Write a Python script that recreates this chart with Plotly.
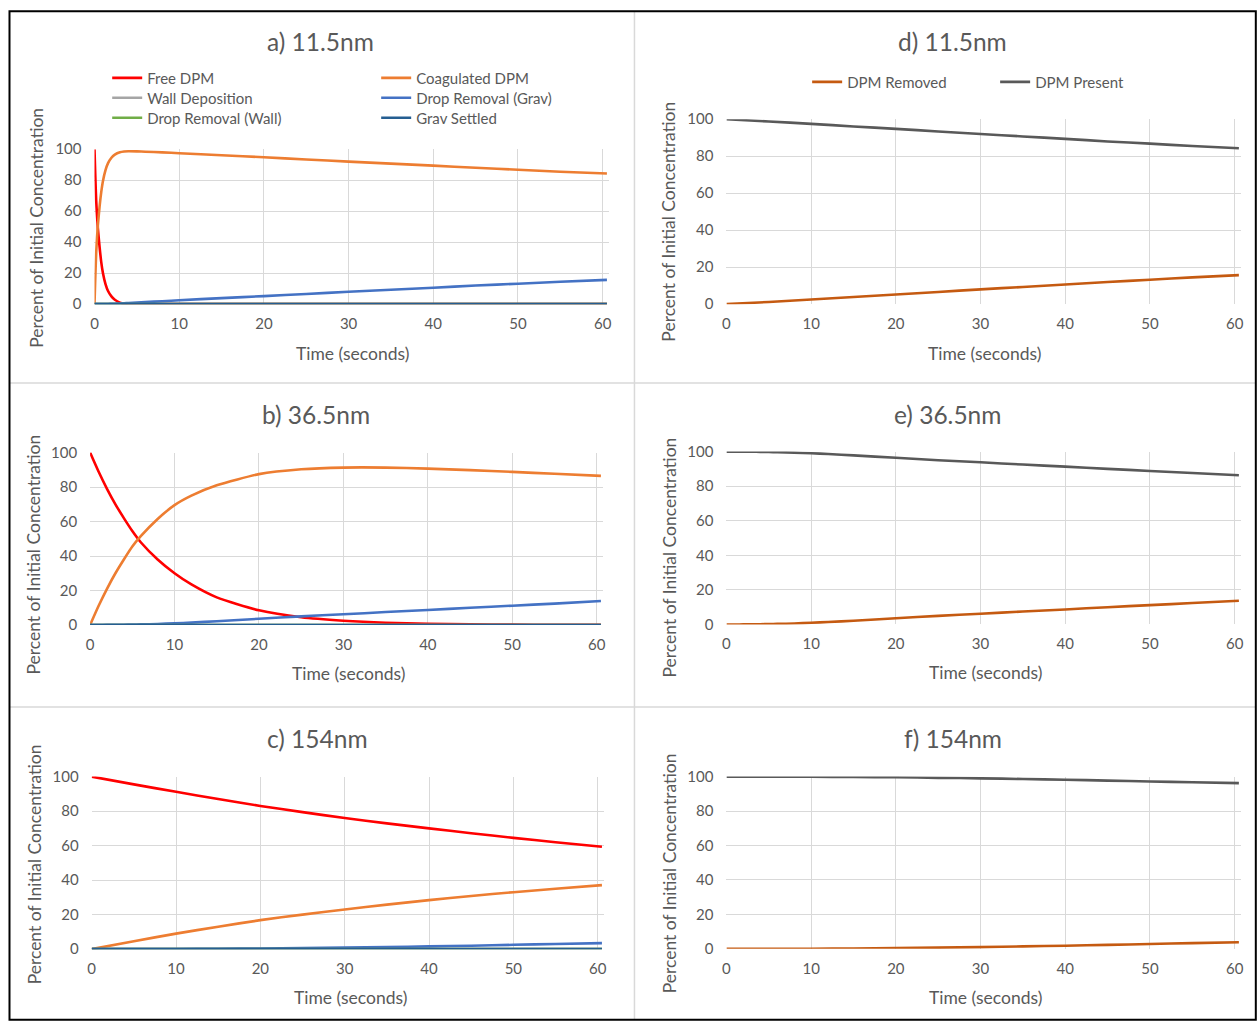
import plotly.graph_objects as go

W, H = 1259, 1029
FONT = "Lato, 'Open Sans', sans-serif"
TXT = "#595959"
GRID = "#D9D9D9"

# ---------------- data ----------------
# a) 11.5 nm
T_A = [0, 0.1, 0.2, 0.3, 0.4, 0.6, 0.8, 1.0, 1.3, 1.6, 2.0, 2.4, 3.0, 3.5, 4, 5, 6, 8, 10,
       15, 20, 25, 30, 35, 40, 45, 50, 55, 60.5]
FREE_A = [100, 82, 67, 57, 49, 37, 27, 20, 13, 8.5, 5, 2.8, 1, 0.3, 0.1, 0, 0, 0, 0,
          0, 0, 0, 0, 0, 0, 0, 0, 0, 0]
COAG_A = [0, 18, 33, 43, 51, 63, 72.5, 79.5, 86.5, 91, 94.5, 96.5, 98, 98.5, 98.7, 98.6, 98.4, 98, 97.4,
          96.1, 94.8, 93.4, 92, 90.7, 89.4, 88, 86.8, 85.5, 84.3]
WALLDEP_A = [0, 0, 0, 0, 0, 0, 0, 0, 0, 0, 0, 0, 0, 0, 0, 0, 0, 0, 0,
             0, 0, 0, 0, 0, 0, 0, 0, 0, 0]
DROPGRAV_A = [0, 0, 0, 0, 0, 0, 0, 0.1, 0.1, 0.1, 0.2, 0.3, 0.4, 0.6, 0.7, 1.0, 1.3, 1.9, 2.5,
              3.9, 5.2, 6.6, 8.0, 9.3, 10.6, 12.0, 13.2, 14.5, 15.7]
DROPWALL_A = [0, 0, 0, 0, 0, 0, 0, 0, 0, 0, 0, 0, 0, 0, 0, 0, 0, 0, 0,
              0, 0, 0, 0, 0, 0, 0, 0, 0, 0]
GRAVSET_A = [0, 0, 0, 0, 0, 0, 0, 0, 0, 0, 0, 0, 0, 0, 0, 0, 0, 0, 0,
             0, 0, 0, 0, 0, 0, 0, 0, 0, 0]

# b) 36.5 nm
T_B = [0, 1, 2, 3, 4, 5, 6, 8, 10, 12, 15, 20, 25, 30, 35, 40, 45, 50, 55, 60.5]
FREE_B = [100, 89, 79, 70, 62, 54.5, 48, 38, 30, 23.5, 16, 8.5, 4.5, 2.5, 1.3, 0.7, 0.35, 0.2, 0.1, 0.05]
COAG_B = [0, 11, 21, 30, 38, 45.5, 51.5, 61.5, 69.5, 75, 81, 87.5, 90.3, 91.3, 91.3, 90.7, 89.8, 88.8, 87.7, 86.5]
WALLDEP_B = [0, 0, 0, 0, 0, 0, 0, 0, 0, 0, 0, 0, 0, 0, 0, 0, 0, 0, 0, 0]
DROPGRAV_B = [0, 0.02, 0.05, 0.1, 0.15, 0.25, 0.35, 0.6, 1.0, 1.4, 2.2, 3.6, 5.0, 6.2, 7.5, 8.7, 10.0, 11.2, 12.4, 13.9]
DROPWALL_B = [0, 0, 0, 0, 0, 0, 0, 0, 0, 0, 0, 0, 0, 0, 0, 0, 0, 0, 0, 0]
GRAVSET_B = [0, 0, 0, 0, 0, 0, 0, 0, 0, 0, 0, 0, 0, 0, 0, 0, 0, 0, 0, 0]

# c) 154 nm
T_C = [0, 5, 10, 15, 20, 25, 30, 35, 40, 45, 50, 55, 60.5]
FREE_C = [100, 95.5, 91.2, 87, 83, 79.4, 76, 72.9, 70, 67.2, 64.5, 62, 59.3]
COAG_C = [0, 4.6, 9.0, 13, 16.8, 20, 23, 25.8, 28.4, 30.8, 33, 35, 37.1]
WALLDEP_C = [0, 0, 0, 0, 0, 0, 0, 0, 0, 0, 0, 0, 0]
DROPGRAV_C = [0, 0.02, 0.08, 0.2, 0.35, 0.6, 0.9, 1.2, 1.6, 2.0, 2.5, 3.0, 3.5]
DROPWALL_C = [0, 0, 0, 0, 0, 0, 0, 0, 0, 0, 0, 0, 0]
GRAVSET_C = [0, 0, 0, 0, 0, 0, 0, 0, 0, 0, 0, 0, 0]

# d) 11.5 nm totals
T_D = [0, 5, 10, 15, 20, 25, 30, 35, 40, 45, 50, 55, 60.5]
REMOVED_D = [0, 1.2, 2.5, 3.9, 5.2, 6.6, 8.0, 9.3, 10.6, 12.0, 13.2, 14.5, 15.7]
PRESENT_D = [100, 98.8, 97.5, 96.1, 94.8, 93.4, 92.0, 90.7, 89.4, 88.0, 86.8, 85.5, 84.3]

# e) 36.5 nm totals
T_E = [0, 1, 2, 3, 4, 5, 6, 8, 10, 12, 15, 20, 25, 30, 35, 40, 45, 50, 55, 60.5]
REMOVED_E = [0, 0.02, 0.05, 0.1, 0.15, 0.25, 0.35, 0.6, 1.0, 1.4, 2.2, 3.6, 5.0, 6.2, 7.5, 8.7, 10.0, 11.2, 12.4, 13.7]
PRESENT_E = [100, 99.98, 99.95, 99.9, 99.85, 99.75, 99.65, 99.4, 99.0, 98.6, 97.8, 96.4, 95.0, 93.8, 92.5, 91.3, 90.0, 88.8, 87.6, 86.3]

# f) 154 nm totals
T_F = [0, 5, 10, 15, 20, 25, 30, 35, 40, 45, 50, 55, 60.5]
REMOVED_F = [0, 0.02, 0.08, 0.2, 0.4, 0.7, 1.0, 1.4, 1.8, 2.3, 2.8, 3.3, 3.8]
PRESENT_F = [100, 99.98, 99.92, 99.8, 99.6, 99.3, 99.0, 98.6, 98.2, 97.7, 97.2, 96.7, 96.2]

SERIES_NAMES = ["Free DPM", "Coagulated DPM", "Wall Deposition", "Drop Removal (Grav)",
                "Drop Removal (Wall)", "Grav Settled"]
SERIES_COLORS = ["#FF0000", "#ED7D31", "#A5A5A5", "#4472C4", "#70AD47", "#255E91"]
TOTAL_NAMES = ["DPM Removed", "DPM Present"]
TOTAL_COLORS = ["#C55A11", "#595959"]

TITLES = ["a) 11.5nm", "b) 36.5nm", "c) 154nm", "d) 11.5nm", "e) 36.5nm", "f) 154nm"]
X_TICKS = [0, 10, 20, 30, 40, 50, 60]
Y_TICKS = [0, 20, 40, 60, 80, 100]
X_TITLE = "Time (seconds)"
Y_TITLE = "Percent of Initial Concentration"

# ---------------- layout geometry ----------------
# target positions are given in screenshot pixels; the page shows the figure
# slightly compressed/offset, so convert them back to figure pixels first.
SX, OX = 0.9953, 2.5
SY, OY = 0.983, 8.7

def dx(x):
    return (x - OX) / SX

def dy(y):
    return (y - OY) / SY

def px(x):
    return min(max(dx(x) / W, 0), 1)

def py(y):
    return min(max(1 - dy(y) / H, 0), 1)

# panel plot areas: (x_left, x_right, y_top, y_bottom) in screenshot px
PANELS = [
    (93, 608, 148, 303),        # a
    (88.6, 602, 451.5, 624),    # b
    (90.2, 603, 775.7, 948.3),  # c
    (725, 1240, 118, 303),      # d
    (725, 1240, 450.5, 623.5),  # e
    (725, 1240, 775.7, 948),    # f
]
TITLE_POS = [(319, 40), (315, 413), (316, 738), (951, 40), (946, 413), (952, 738)]
XT_POS = [(351, 352), (347, 673), (349, 997), (983, 352), (984, 672), (984, 997)]
YT_POS = [(35, 226), (32, 553), (33, 863), (667, 220), (668, 556), (668, 872)]

# legend text start positions (px): (text_left, row_center)
LEG_A_POS = [(148, 78), (417, 78), (148, 98), (417, 98), (148, 118), (417, 118)]
LEG_D_POS = [(848, 82), (1036, 82)]
LEG_FONT = 15

fig = go.Figure()

groups_left = [
    (T_A, [FREE_A, COAG_A, WALLDEP_A, DROPGRAV_A, DROPWALL_A, GRAVSET_A]),
    (T_B, [FREE_B, COAG_B, WALLDEP_B, DROPGRAV_B, DROPWALL_B, GRAVSET_B]),
    (T_C, [FREE_C, COAG_C, WALLDEP_C, DROPGRAV_C, DROPWALL_C, GRAVSET_C]),
]
groups_right = [
    (T_D, [REMOVED_D, PRESENT_D]),
    (T_E, [REMOVED_E, PRESENT_E]),
    (T_F, [REMOVED_F, PRESENT_F]),
]

def legname(k):
    return "legend" if k == 1 else "legend%d" % k

for i, (t, series) in enumerate(groups_left):
    ax = "" if i == 0 else str(i + 1)
    for j, vals in enumerate(series):
        fig.add_trace(go.Scatter(
            x=t, y=vals, mode="lines", name=SERIES_NAMES[j],
            line=dict(color=SERIES_COLORS[j], width=2.6, shape="spline", smoothing=0.6),
            xaxis="x" + ax, yaxis="y" + ax,
            showlegend=(i == 0), legend=legname(j + 1),
            hoverinfo="skip",
        ))

for i, (t, series) in enumerate(groups_right):
    ax = str(i + 4)
    for j, vals in enumerate(series):
        fig.add_trace(go.Scatter(
            x=t, y=vals, mode="lines", name=TOTAL_NAMES[j],
            line=dict(color=TOTAL_COLORS[j], width=2.6, shape="spline", smoothing=0.6),
            xaxis="x" + ax, yaxis="y" + ax,
            showlegend=(i == 0), legend=legname(7 + j),
            hoverinfo="skip",
        ))

layout = dict(
    width=W, height=H, margin=dict(l=0, r=0, t=0, b=0),
    paper_bgcolor="white", plot_bgcolor="white",
    font=dict(family=FONT, color=TXT, size=15),
)

for i, (xl, xr, yt, yb) in enumerate(PANELS):
    ax = "" if i == 0 else str(i + 1)
    layout["xaxis" + ax] = dict(
        domain=[px(xl), px(xr)], range=[0, 60.8], anchor="y" + ax,
        tickvals=X_TICKS, showgrid=True, gridcolor=GRID, gridwidth=1,
        zeroline=False, showline=False, ticks="", ticklabelstandoff=9,
        tickfont=dict(size=15, color=TXT, family=FONT), fixedrange=True,
    )
    layout["yaxis" + ax] = dict(
        domain=[py(yb), py(yt)], range=[0, 100], anchor="x" + ax,
        tickvals=Y_TICKS, showgrid=True, gridcolor=GRID, gridwidth=1,
        zeroline=False, showline=False, ticks="", ticklabelstandoff=12,
        tickfont=dict(size=15, color=TXT, family=FONT), fixedrange=True,
    )

for k, (tx, ty) in enumerate(LEG_A_POS + LEG_D_POS, start=1):
    layout[legname(k)] = dict(
        x=(dx(tx) - 42.5) / W, y=1 - (dy(ty) - 18) / H,
        xanchor="left", yanchor="top", orientation="v",
        bgcolor="rgba(0,0,0,0)", font=dict(size=LEG_FONT, color=TXT, family=FONT),
        itemclick=False, itemdoubleclick=False,
    )

annotations = []
for (x, y), text in zip(TITLE_POS, TITLES):
    annotations.append(dict(text=text, x=px(x), y=py(y), xref="paper", yref="paper",
                            xanchor="center", yanchor="middle", showarrow=False,
                            font=dict(size=24.5, color=TXT, family=FONT)))
for (x, y) in XT_POS:
    annotations.append(dict(text=X_TITLE, x=px(x), y=py(y), xref="paper", yref="paper",
                            xanchor="center", yanchor="middle", showarrow=False,
                            font=dict(size=17.5, color=TXT, family=FONT)))
for (x, y) in YT_POS:
    annotations.append(dict(text=Y_TITLE, x=px(x), y=py(y), xref="paper", yref="paper",
                            xanchor="center", yanchor="middle", showarrow=False, textangle=-90,
                            font=dict(size=17.5, color=TXT, family=FONT)))
layout["annotations"] = annotations

x_left, x_right = px(8), (W - 1.2) / W
y_top, y_bot = py(10), 1.2 / H
layout["shapes"] = [
    dict(type="line", xref="paper", yref="paper", x0=px(633), x1=px(633), y0=y_top, y1=y_bot,
         line=dict(color=GRID, width=1.5)),
    dict(type="line", xref="paper", yref="paper", x0=x_left, x1=x_right, y0=py(382), y1=py(382),
         line=dict(color=GRID, width=1.5)),
    dict(type="line", xref="paper", yref="paper", x0=x_left, x1=x_right, y0=py(706), y1=py(706),
         line=dict(color=GRID, width=1.5)),
    dict(type="rect", xref="paper", yref="paper", x0=x_left, x1=x_right, y0=y_bot, y1=y_top,
         line=dict(color="black", width=2), fillcolor="rgba(0,0,0,0)"),
]

fig.update_layout(**layout)
fig.write_html("out.html")
